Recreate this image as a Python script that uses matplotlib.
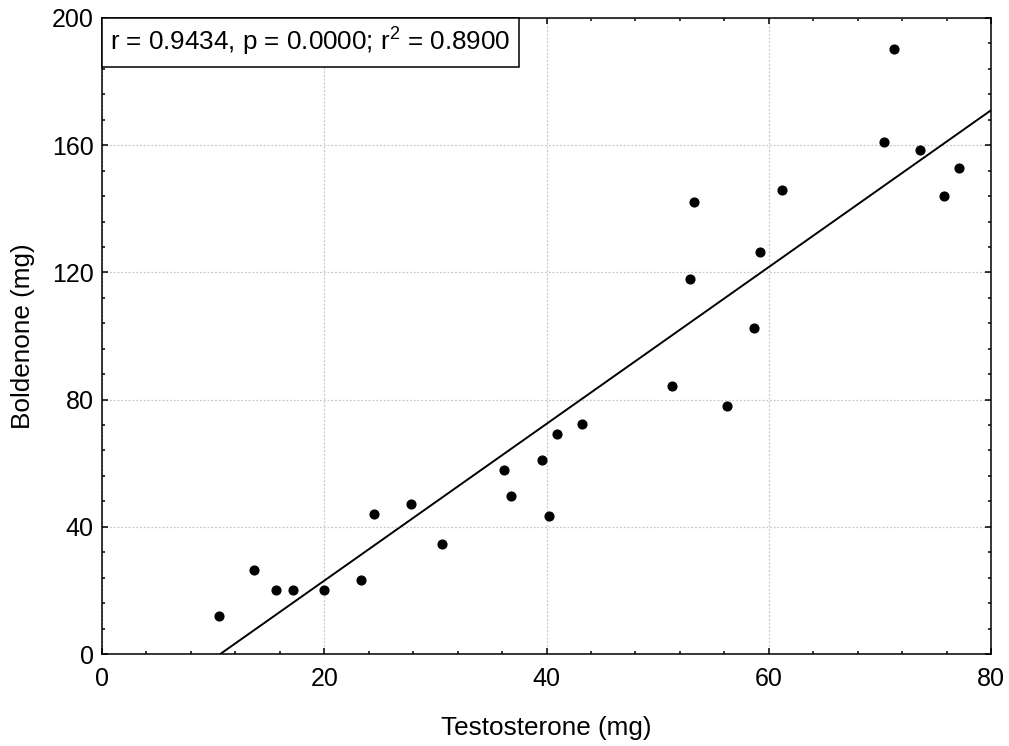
import numpy as np
import matplotlib
matplotlib.use('Agg')
import matplotlib.pyplot as plt
from matplotlib.offsetbox import AnchoredText
from matplotlib.ticker import MultipleLocator

plt.rcParams['font.family'] = ['Liberation Sans', 'DejaVu Sans']
plt.rcParams['mathtext.fontset'] = 'custom'
plt.rcParams['mathtext.rm'] = 'Liberation Sans'
plt.rcParams['mathtext.it'] = 'Liberation Sans'

# values
testosterone = [10.5, 13.7, 15.7, 17.15, 20.0, 23.3, 24.5, 27.8, 30.6, 36.2,
                36.8, 39.6, 40.2, 40.9, 43.2, 51.3, 52.95, 53.3, 56.2, 58.7,
                59.25, 61.2, 70.4, 71.3, 73.6, 75.8, 77.1]
boldenone = [12.0, 26.4, 20.1, 20.1, 20.1, 23.3, 44.0, 47.1, 34.6, 57.8,
             49.6, 61.0, 43.4, 69.1, 72.3, 84.2, 118.0, 142.0, 77.9, 102.4,
             126.3, 145.8, 160.9, 190.3, 158.4, 143.9, 152.7]
stats_label = 'r = 0.9434, p = 0.0000; r$^2$ = 0.8900'

x = np.array(testosterone)
y = np.array(boldenone)
slope, intercept = np.polyfit(x, y, 1)

fig = plt.figure(figsize=(10.09, 7.46), dpi=100)
ax = fig.add_axes([0.1011, 0.1233, 0.8811, 0.8526])

xs = np.array([0, 80])
ax.plot(xs, slope * xs + intercept, color='black', lw=1.4, zorder=3)
ax.plot(x, y, 'o', color='black', ms=6.3, zorder=4)

ax.set_xlim(0, 80)
ax.set_ylim(0, 200)
ax.xaxis.set_major_locator(MultipleLocator(20))
ax.xaxis.set_minor_locator(MultipleLocator(4))
ax.yaxis.set_major_locator(MultipleLocator(40))
ax.yaxis.set_minor_locator(MultipleLocator(8))
ax.tick_params(which='both', direction='in', top=True, right=True, width=1.1)
ax.tick_params(which='major', length=4, labelsize=18, pad=9)
ax.tick_params(which='minor', length=2.5)
ax.tick_params(axis='y', which='major', pad=6)
ax.grid(True, which='major', color='#c8c8c8', linestyle=(0, (1.5, 1.5)), lw=0.9)
for s in ax.spines.values():
    s.set_linewidth(1.1)

ax.set_xlabel('Testosterone (mg)', fontsize=18.8, labelpad=18)
ax.set_ylabel('Boldenone (mg)', fontsize=18.8, labelpad=12)

at = AnchoredText(stats_label, loc='upper left', prop=dict(size=18.7),
                  frameon=True, pad=0.32, borderpad=0)
at.patch.set_boxstyle('square,pad=0')
at.patch.set_linewidth(1.1)
ax.add_artist(at)

fig.savefig('out.png', dpi=100)
